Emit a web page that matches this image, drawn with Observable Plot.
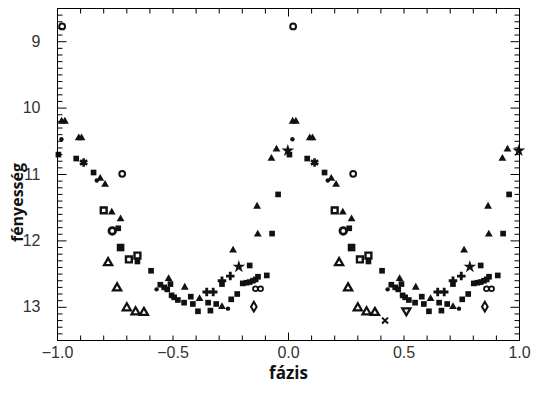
<!DOCTYPE html>
<html><head><meta charset="utf-8">
<script src="https://cdn.jsdelivr.net/npm/d3@7"></script>
<script src="https://cdn.jsdelivr.net/npm/@observablehq/plot@0.6"></script>
<style>body{margin:0;background:#fff}</style>
</head><body><div id="chart"></div>
<script>
// Light-curve observations, phase in [0,1]; each is drawn at phase and phase-1
const phase = [0.020,0.018,0.032,0.017,0.092,0.104,0.997,0.004,0.081,0.113,
  0.156,0.170,0.185,0.206,0.280,0.955,0.200,0.235,0.273,0.237,
  0.263,0.929,0.926,0.948,0.273,0.309,0.346,0.346,0.219,0.258,
  0.300,0.338,0.374,0.405,0.429,0.445,0.462,0.475,0.489,0.481,
  0.494,0.505,0.521,0.548,0.551,0.577,0.586,0.608,0.615,0.646,
  0.674,0.652,0.662,0.687,0.712,0.738,0.752,0.778,0.712,0.712,
  0.748,0.785,0.760,0.832,0.802,0.818,0.832,0.846,0.858,0.868,
  0.906,0.857,0.879,0.850,0.864,0.867];
const mag = [8.77,10.20,10.20,10.47,10.45,10.45,10.64,10.70,10.76,10.82,
  10.97,11.09,11.06,11.15,10.99,11.30,11.54,11.57,11.67,11.85,
  11.81,11.89,10.76,10.62,12.10,12.28,12.22,12.31,12.33,12.71,
  13.01,13.07,13.08,12.45,12.73,12.66,12.70,12.73,12.65,12.57,
  12.82,12.85,12.89,12.93,12.70,12.84,12.95,13.06,12.87,12.77,
  12.77,12.93,13.05,12.95,12.99,13.02,12.88,12.80,12.65,12.60,
  12.53,12.39,12.14,12.37,12.64,12.63,12.62,12.60,12.58,12.54,
  12.52,12.72,12.72,12.99,11.48,11.90];
const kind = ["ocirc","tri","tri","dot","tri","tri","star","sq","sq","ast",
  "sq","dot","tri","tri","ocirc","sq","osq","tri","tri","gear",
  "sq","sq","tri","tri","sqL","osq","osq","sq","otri","otri",
  "otri","otri","otri","sq","dot","sq","sq","sq","sq","tri",
  "sq","sq","sq","sq","tri","sq","sq","sq","tri","cross",
  "cross","sq","sq","sq","tri","dot","sq","sq","sq","cross",
  "cross","star","tri","sq","sq","sq","sq","sq","sq","sq",
  "sq","ocircS","ocircS","odiam","tri","tri"];
// observations shown only once (right half)
const extraPhase = [0.418, 0.510];
const extraMag = [13.20, 13.05];
const extraKind = ["x", "itri"];

const xTicks = [-1, -0.5, 0, 0.5, 1];
const yTicks = [9, 10, 11, 12, 13];

const rows = [];
phase.forEach((p, i) => {
  rows.push({x: p, y: mag[i], k: kind[i]});
  rows.push({x: p - 1, y: mag[i], k: kind[i]});
});
extraPhase.forEach((p, i) => rows.push({x: p, y: extraMag[i], k: extraKind[i]}));

const ink = "#111";
const styles = {
  tri:   {symbol: "triangle", fill: ink, r: 2.9},
  otri:  {symbol: "triangle", fill: "white", stroke: ink, strokeWidth: 2.3, r: 3.0},
  itri:  {symbol: "triangle", fill: "white", stroke: ink, strokeWidth: 2.3, r: 3.0, rotate: 180},
  sq:    {symbol: "square", fill: ink, r: 3.2},
  sqL:   {symbol: "square", fill: ink, r: 4.3},
  osq:   {symbol: "square", fill: "white", stroke: ink, strokeWidth: 2.4, r: 3.3},
  dot:   {symbol: "circle", fill: ink, r: 2.2},
  ocirc: {symbol: "circle", fill: "white", stroke: ink, strokeWidth: 2, r: 2.9},
  ocircS:{symbol: "circle", fill: "white", stroke: ink, strokeWidth: 1.8, r: 2.4},
  gear:  {symbol: "circle", fill: "white", stroke: ink, strokeWidth: 2.8, r: 3.3},
  ast:   {symbol: "asterisk", fill: "none", stroke: ink, strokeWidth: 2.6, r: 4},
  star:  {symbol: "star", fill: ink, r: 4.0},
  cross: {symbol: "cross", fill: ink, r: 3.6},
  odiam: {symbol: "diamond", fill: "white", stroke: ink, strokeWidth: 2, r: 3},
  x:     {symbol: "times", fill: "none", stroke: ink, strokeWidth: 2, r: 2.8}
};

const seg = (dx, dy) => ({draw(ctx) { ctx.moveTo(0, 0); ctx.lineTo(dx, dy); }});
const yAll = d3.range(85, 136).map(d => d / 10);
const yMinor = yAll.filter(v => !yTicks.includes(v));
const xAll = d3.range(-10, 11).map(d => d / 10);
const xMinor = xAll.filter(v => v !== 0);
const tickStyle = {fill: "none", stroke: "black", strokeWidth: 1};

const dotMarks = Object.entries(styles).map(([k, s]) =>
  Plot.dot(rows.filter(d => d.k === k), {x: "x", y: "y", ...s}));

const chart = Plot.plot({
  width: 540, height: 393,
  marginLeft: 57, marginRight: 21, marginTop: 8, marginBottom: 53,
  style: {fontFamily: "Liberation Sans, Arial, sans-serif", fontSize: "16px", background: "white"},
  x: {domain: [-1, 1]},
  y: {domain: [8.5, 13.5], reverse: true},
  marks: [
    ...dotMarks,
    Plot.frame({stroke: "black", strokeWidth: 1}),
    Plot.dot(yMinor, {y: d => d, frameAnchor: "left", symbol: seg(5, 0), ...tickStyle}),
    Plot.dot(yTicks, {y: d => d, frameAnchor: "left", symbol: seg(9, 0), ...tickStyle}),
    Plot.dot(yMinor, {y: d => d, frameAnchor: "right", symbol: seg(-5, 0), ...tickStyle}),
    Plot.dot(yTicks, {y: d => d, frameAnchor: "right", symbol: seg(-9, 0), ...tickStyle}),
    Plot.dot(xMinor, {x: d => d, frameAnchor: "bottom", symbol: seg(0, -5), ...tickStyle}),
    Plot.dot([0], {x: d => d, frameAnchor: "bottom", symbol: seg(0, -8), ...tickStyle}),
    Plot.dot(xMinor, {x: d => d, frameAnchor: "top", symbol: seg(0, 5), ...tickStyle}),
    Plot.dot([0], {x: d => d, frameAnchor: "top", symbol: seg(0, 8), ...tickStyle}),
    Plot.axisY({ticks: yTicks, tickSize: 0, tickPadding: 17, label: null, fontSize: 16, fill: "#333", tickFormat: d3.format("d")}),
    Plot.axisX({ticks: xTicks, tickSize: 0, tickPadding: 6, label: null, fontSize: 16, fill: "#333", tickFormat: d3.format(".1f")}),
    Plot.text(["fázis"], {text: d => d, frameAnchor: "bottom", dy: 38, fontSize: 17, fontWeight: "bold", fontFamily: "Open Sans, DejaVu Sans, sans-serif", fill: "#111"}),
    Plot.text(["fényesség"], {text: d => d, frameAnchor: "left", textAnchor: "middle", dx: -40, dy: 28, rotate: -90, fontSize: 16, fontWeight: "bold", fontFamily: "Open Sans, DejaVu Sans, sans-serif", fill: "#111"})
  ]
});
document.getElementById("chart").appendChild(chart);
</script>
</body></html>
